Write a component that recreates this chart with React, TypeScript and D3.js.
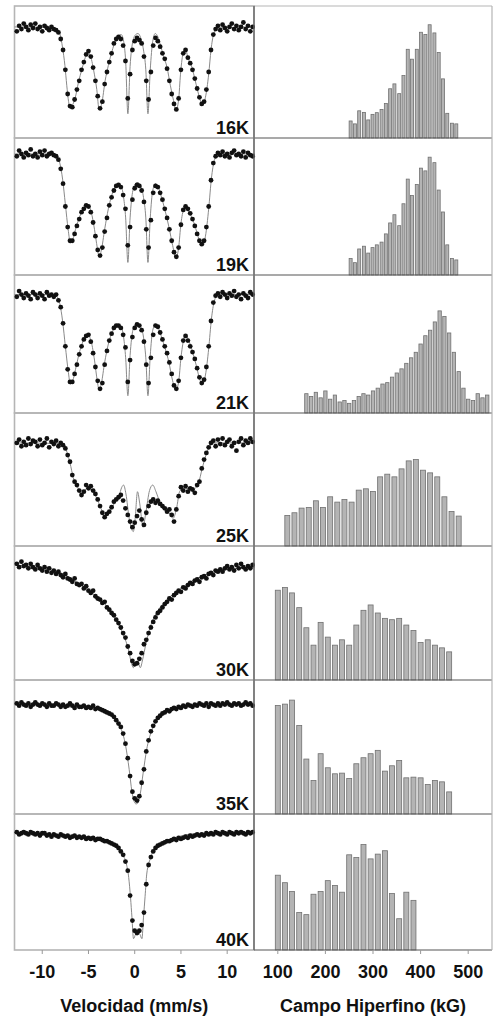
import React, { useEffect, useRef } from 'react';
import * as d3 from 'd3';

const temperatures = ['16K', '19K', '21K', '25K', '30K', '35K', '40K'];

// channel velocities (mm/s)
const velocity = [
  -12.75, -12.5, -12.25, -12, -11.75, -11.5, -11.25, -11, -10.75, -10.5, -10.25, -10,
  -9.75, -9.5, -9.25, -9, -8.75, -8.5, -8.25, -8, -7.75, -7.5, -7.25, -7,
  -6.75, -6.5, -6.25, -6, -5.75, -5.5, -5.25, -5, -4.75, -4.5, -4.25, -4,
  -3.75, -3.5, -3.25, -3, -2.75, -2.5, -2.25, -2, -1.75, -1.5, -1.25, -1,
  -0.75, -0.5, -0.25, 0, 0.25, 0.5, 0.75, 1, 1.25, 1.5, 1.75, 2,
  2.25, 2.5, 2.75, 3, 3.25, 3.5, 3.75, 4, 4.25, 4.5, 4.75, 5,
  5.25, 5.5, 5.75, 6, 6.25, 6.5, 6.75, 7, 7.25, 7.5, 7.75, 8,
  8.25, 8.5, 8.75, 9, 9.25, 9.5, 9.75, 10, 10.25, 10.5, 10.75, 11,
  11.25, 11.5, 11.75, 12, 12.25, 12.5, 12.75,
];

// measured transmission (arb. units), one value per channel
const counts16K = [
  97, 102, 99, 104, 101, 98, 103, 100, 104, 99, 101, 97, 102, 100, 98, 101,
  99, 98, 96, 90, 80, 62, 40, 29, 28, 35, 44, 52, 62, 69, 76, 79,
  74, 64, 52, 38, 27, 33, 49, 60, 69, 77, 86, 90, 92, 90, 84, 70,
  36, 58, 80, 88, 91, 89, 86, 74, 52, 35, 60, 84, 91, 88, 83, 77,
  72, 63, 52, 40, 31, 26, 36, 62, 77, 80, 73, 68, 62, 54, 45, 37,
  31, 33, 44, 60, 80, 94, 99, 102, 98, 103, 100, 97, 101, 104, 99, 102,
  98, 101, 105, 99, 102, 97, 101,
];
const counts19K = [
  104, 109, 106, 103, 107, 105, 110, 104, 106, 103, 108, 105, 109, 104, 106, 107,
  105, 104, 101, 93, 80, 60, 42, 30, 30, 36, 43, 49, 55, 58, 61, 60,
  55, 46, 34, 22, 17, 24, 38, 50, 61, 68, 74, 78, 79, 77, 70, 58,
  26, 42, 66, 76, 79, 78, 74, 64, 40, 24, 48, 72, 78, 77, 72, 66,
  58, 50, 40, 30, 20, 16, 24, 44, 57, 60, 58, 54, 49, 43, 36, 30,
  27, 30, 42, 60, 83, 98, 104, 107, 105, 108, 104, 106, 103, 107, 109, 105,
  106, 104, 108, 103, 107, 105, 104,
];
const counts21K = [
  101, 106, 103, 100, 104, 102, 99, 105, 103, 100, 104, 102, 99, 105, 102, 103,
  101, 103, 98, 92, 78, 58, 38, 27, 27, 34, 42, 51, 58, 64, 67, 68,
  62, 52, 40, 28, 21, 26, 42, 54, 63, 69, 74, 76, 76, 74, 68, 57,
  27, 46, 66, 74, 77, 76, 72, 62, 42, 26, 48, 68, 76, 75, 70, 64,
  58, 52, 44, 34, 24, 21, 28, 48, 63, 67, 63, 58, 53, 47, 39, 31,
  26, 29, 40, 58, 80, 96, 102, 104, 101, 105, 103, 100, 104, 102, 106, 101,
  103, 99, 104, 102, 100, 105, 103,
];
const counts25K = [
  93, 96, 90, 94, 91, 97, 92, 95, 94, 90, 96, 91, 93, 97, 89, 94,
  92, 95, 90, 93, 91, 88, 82, 76, 64, 58, 55, 50, 46, 49, 55, 52,
  54, 50, 47, 42, 36, 30, 26, 29, 31, 35, 40, 42, 44, 46, 41, 34,
  28, 22, 17, 21, 27, 32, 24, 19, 30, 36, 40, 42, 39, 41, 38, 36,
  34, 31, 33, 28, 22, 33, 45, 53, 50, 54, 49, 52, 51, 48, 55, 58,
  70, 78, 84, 89, 93, 95, 90, 96, 92, 97, 91, 94, 96, 90, 93, 86,
  94, 97, 91, 95, 93, 97, 94,
];
const counts30K = [
  104, 101, 106, 102, 103, 100, 104, 101, 99, 103, 100, 98, 101, 97, 100, 96,
  98, 95, 97, 94, 92, 95, 91, 90, 88, 91, 86, 85, 86, 82, 84, 80,
  78, 80, 75, 73, 72, 69, 70, 65, 63, 60, 58, 54, 51, 47, 42, 38,
  30, 24, 17, 14, 15, 19, 24, 32, 36, 42, 47, 52, 56, 60, 62, 65,
  68, 70, 73, 72, 76, 78, 80, 79, 83, 82, 85, 87, 86, 89, 90, 88,
  92, 93, 91, 95, 96, 94, 98, 97, 99, 97, 100, 102, 99, 101, 98, 103,
  100, 104, 101, 99, 102, 100, 103,
];
const counts35K = [
  99, 97, 100, 98, 97, 99, 96, 98, 100, 98, 97, 99, 98, 96, 99, 97,
  97, 99, 98, 96, 98, 96, 97, 99, 97, 95, 98, 96, 96, 97, 95, 96,
  95, 97, 94, 95, 94, 93, 92, 91, 90, 89, 87, 84, 81, 78, 72, 63,
  50, 34, 20, 14, 12, 16, 28, 40, 56, 66, 74, 79, 83, 86, 88, 90,
  91, 93, 92, 94, 95, 94, 96, 95, 97, 96, 98, 97, 96, 98, 97, 99,
  98, 97, 99, 96, 99, 98, 97, 99, 97, 99, 98, 100, 98, 97, 99, 98,
  99, 97, 98, 100, 98, 99, 97,
];
const counts40K = [
  104, 102, 103, 104, 103, 102, 104, 103, 102, 103, 101, 103, 103, 101, 102, 100,
  102, 101, 100, 102, 101, 100, 101, 99, 100, 101, 99, 100, 99, 100, 98, 99,
  98, 99, 97, 98, 98, 97, 96, 96, 95, 94, 93, 92, 90, 87, 84, 78,
  70, 48, 26, 17, 15, 17, 22, 33, 58, 75, 82, 87, 90, 92, 93, 94,
  95, 96, 96, 97, 98, 97, 99, 98, 99, 100, 99, 101, 100, 101, 102, 101,
  102, 101, 103, 102, 103, 102, 104, 103, 102, 104, 103, 102, 104, 103, 102, 104,
  103, 104, 103, 102, 104, 103, 104,
];

// fitted curves: [velocity, transmission]
const fit16K = [
  [-13, 101], [-9, 100.5], [-8.4, 99], [-8.1, 95], [-7.8, 82], [-7.55, 66], [-7.35, 48], [-7.15, 33],
  [-6.99, 27], [-6.8, 29], [-6.45, 36], [-6.1, 50], [-5.7, 63], [-5.35, 73], [-5.1, 78], [-4.8, 75],
  [-4.45, 62], [-4.1, 44], [-3.85, 26], [-3.55, 32], [-3.2, 52], [-2.85, 66], [-2.45, 79], [-2.1, 88],
  [-1.75, 93], [-1.45, 94], [-1.2, 88], [-0.98, 70], [-0.74, 22], [-0.5, 65], [-0.2, 88], [0.1, 94],
  [0.35, 95], [0.65, 91], [0.95, 80], [1.2, 62], [1.43, 22], [1.68, 62], [1.95, 88], [2.22, 95],
  [2.5, 92], [2.8, 84], [3.1, 75], [3.5, 64], [3.85, 48], [4.2, 34], [4.46, 25], [4.75, 35],
  [4.95, 58], [5.2, 76], [5.45, 81], [5.8, 72], [6.2, 64], [6.55, 52], [6.9, 40], [7.35, 30],
  [7.65, 37], [8.0, 58], [8.25, 80], [8.55, 95], [8.9, 100], [13, 101],
];
const fit19K = [
  [-13, 106], [-9, 106], [-8.4, 104], [-8.1, 98], [-7.8, 84], [-7.5, 62], [-7.2, 40], [-6.95, 28],
  [-6.7, 31], [-6.4, 40], [-6.0, 50], [-5.5, 59], [-5.1, 61], [-4.7, 55], [-4.35, 40], [-4.05, 24],
  [-3.85, 16], [-3.6, 22], [-3.25, 40], [-2.85, 58], [-2.4, 72], [-1.95, 79], [-1.5, 78], [-1.2, 68],
  [-0.98, 50], [-0.74, 11], [-0.5, 50], [-0.2, 74], [0.1, 80], [0.35, 81], [0.65, 78], [0.95, 68],
  [1.2, 50], [1.43, 11], [1.68, 50], [1.95, 74], [2.25, 80], [2.55, 77], [2.9, 68], [3.3, 56],
  [3.7, 42], [4.1, 26], [4.45, 15], [4.75, 24], [5.0, 45], [5.3, 58], [5.5, 61], [5.9, 55],
  [6.3, 48], [6.7, 38], [7.0, 30], [7.35, 26], [7.65, 34], [8.0, 58], [8.3, 85], [8.6, 100],
  [9.0, 106], [13, 106],
];
const fit21K = [
  [-13, 103], [-9, 103], [-8.4, 101], [-8.1, 95], [-7.8, 80], [-7.5, 58], [-7.2, 37], [-6.95, 25],
  [-6.7, 28], [-6.4, 38], [-6.0, 52], [-5.5, 64], [-5.1, 68], [-4.7, 62], [-4.35, 46], [-4.05, 28],
  [-3.85, 20], [-3.6, 26], [-3.25, 44], [-2.85, 60], [-2.4, 71], [-1.95, 76], [-1.5, 75], [-1.2, 66],
  [-0.98, 48], [-0.74, 15], [-0.5, 50], [-0.2, 72], [0.1, 77], [0.35, 78], [0.65, 75], [0.95, 66],
  [1.2, 48], [1.43, 15], [1.68, 50], [1.95, 72], [2.25, 77], [2.55, 74], [2.9, 66], [3.3, 56],
  [3.7, 44], [4.1, 28], [4.45, 20], [4.75, 27], [5.0, 48], [5.3, 64], [5.5, 68], [5.9, 62],
  [6.3, 52], [6.7, 40], [7.0, 30], [7.35, 25], [7.65, 33], [8.0, 56], [8.3, 82], [8.6, 97],
  [9.0, 103], [13, 103],
];
const fit25K = [
  [-13, 93], [-8, 92.5], [-7.6, 90], [-7.3, 84], [-7.0, 75], [-6.65, 62], [-6.1, 52], [-5.7, 47],
  [-5.2, 52], [-4.7, 51], [-4.1, 43], [-3.7, 35], [-3.2, 27], [-2.7, 31], [-2.1, 40], [-1.7, 45],
  [-1.4, 53], [-1.2, 55], [-0.95, 47], [-0.6, 25], [-0.15, 13], [0.05, 25], [0.3, 49], [0.55, 38],
  [0.9, 17], [1.2, 30], [1.6, 50], [1.95, 55], [2.3, 49], [2.7, 40], [3.2, 35], [3.7, 30],
  [4.15, 25], [4.5, 33], [4.9, 50], [5.5, 52], [6.3, 51], [6.9, 57], [7.3, 70], [7.7, 82],
  [8.2, 91], [8.7, 93], [13, 93],
];
const fit30K = [
  [-13, 103], [-10, 100], [-8, 96], [-6, 86], [-4, 74], [-3, 66], [-2, 54], [-1.2, 40],
  [-0.7, 28], [-0.35, 15], [-0.15, 11], [0.1, 16], [0.35, 16], [0.6, 11], [0.85, 18], [1.2, 32],
  [1.7, 48], [2.5, 62], [3.5, 72], [5, 82], [6.5, 90], [8, 95], [10, 99], [13, 101],
];
const fit35K = [
  [-13, 98], [-6, 97], [-4, 95], [-3, 92], [-2.2, 86], [-1.5, 77], [-1.0, 62], [-0.6, 40],
  [-0.3, 20], [-0.05, 11], [0.15, 9], [0.35, 10], [0.6, 18], [0.9, 36], [1.3, 58], [1.8, 74],
  [2.5, 85], [3.5, 92], [5, 96], [7, 98], [13, 98],
];
const fit40K = [
  [-13, 103.5], [-7.4, 101.5], [-3.7, 98.5], [-2.3, 94], [-1.4, 85], [-0.9, 76], [-0.65, 64], [-0.45, 46],
  [-0.3, 29], [-0.13, 10], [0.1, 14], [0.33, 16], [0.55, 14], [0.78, 10], [0.95, 29], [1.12, 47],
  [1.3, 67], [1.7, 81], [2.4, 91], [4.2, 98.5], [7.1, 103], [13, 103.5],
];

// hyperfine field distributions: field (kG) and probability (arb. units)
const field16K = [253, 262, 271, 281, 290, 299, 308, 318, 327, 336, 345, 355, 364, 373, 382, 392, 401, 410, 419, 429, 438, 447, 456, 466, 475];
const prob16K = [12.9, 10.7, 20.6, 19.4, 13.7, 17.9, 19.2, 21.6, 26.1, 37.3, 41, 33.6, 47.3, 67.2, 59.7, 67.2, 80.1, 78.4, 85.8, 79.6, 64.7, 44.8, 18.7, 11.2, 10.7];
const field19K = [253, 262, 271, 281, 290, 299, 308, 318, 327, 336, 345, 355, 364, 373, 382, 392, 401, 410, 419, 429, 438, 447, 456, 466, 475];
const prob19K = [12, 9, 19, 21, 16, 20, 22, 24, 30, 38, 44, 36, 52, 70, 58, 66, 78, 76, 86, 82, 62, 46, 22, 12, 11];
const field21K = [160, 170, 180, 190, 200, 210, 220, 230, 240, 250, 260, 270, 280, 290, 300, 310, 320, 330, 340, 350, 360, 370, 380, 390, 400, 410, 420, 430, 440, 450, 460, 470, 480, 490, 500, 510, 520, 530, 540];
const prob21K = [14, 12, 15, 11, 16, 10, 13, 8, 9, 7, 9, 12, 14, 13, 16, 18, 21, 22, 26, 29, 32, 36, 40, 44, 50, 56, 60, 66, 74, 70, 58, 44, 30, 18, 10, 9, 14, 11, 13];
const field25K = [120, 135, 150, 165, 180, 195, 210, 225, 240, 255, 270, 285, 300, 315, 330, 345, 360, 375, 390, 405, 420, 435, 450, 465, 480];
const prob25K = [23, 25, 28.5, 29, 34, 29, 37, 33, 35, 33, 42, 43, 41, 52, 54, 52, 58, 64, 65, 57, 55, 52, 37, 26, 22.5];
const field30K = [100, 115, 130, 145, 160, 175, 190, 205, 220, 235, 250, 265, 280, 295, 310, 325, 340, 355, 370, 385, 400, 415, 430, 445, 460];
const prob30K = [67, 69, 65, 54, 39, 26, 43, 32, 26, 30, 26, 41, 52, 56, 50, 46, 45, 46, 41, 37, 28, 30, 26, 24, 21];
const field35K = [100, 115, 130, 145, 160, 175, 190, 205, 220, 235, 250, 265, 280, 295, 310, 325, 340, 355, 370, 385, 400, 415, 430, 445, 460];
const prob35K = [81, 82, 85, 66, 41, 25, 45, 34.5, 30, 30.5, 26.5, 37.5, 42, 45, 47.5, 32, 36, 40, 27, 27.5, 27, 22, 25, 24, 16.5];
const field40K = [100, 115, 130, 145, 160, 175, 190, 205, 220, 235, 250, 265, 280, 295, 310, 325, 340, 355, 370, 385];
const prob40K = [55, 49.5, 43, 27.5, 26, 41, 43, 51, 47.5, 42.5, 70, 68, 77.5, 67, 70.5, 73, 41.5, 23, 42.5, 36.5];

const velocityTicks = [-10, -5, 0, 5, 10];
const fieldTicks = [100, 200, 300, 400, 500];

const spectra = [
  { counts: counts16K, fit: fit16K, field: field16K, prob: prob16K },
  { counts: counts19K, fit: fit19K, field: field19K, prob: prob19K },
  { counts: counts21K, fit: fit21K, field: field21K, prob: prob21K },
  { counts: counts25K, fit: fit25K, field: field25K, prob: prob25K },
  { counts: counts30K, fit: fit30K, field: field30K, prob: prob30K },
  { counts: counts35K, fit: fit35K, field: field35K, prob: prob35K },
  { counts: counts40K, fit: fit40K, field: field40K, prob: prob40K },
];

const W = 494;
const H = 1017;
const rowEdges = [6, 138, 275, 413, 546, 680, 814, 950];
const LEFT = 14.5;
const MID = 254;
const RIGHT = 492;
const FONT = '"Liberation Sans", Arial, Helvetica, sans-serif';

const App = () => {
  const svgRef = useRef<SVGSVGElement>(null);

  useEffect(() => {
    const svg = d3.select(svgRef.current);
    svg.selectAll('*').remove();

    const xVel = d3.scaleLinear().domain([-13, 12.9]).range([LEFT, MID]);
    const xField = d3.scaleLinear().domain([50, 550]).range([MID, RIGHT]);

    spectra.forEach((s, r) => {
      const top = rowEdges[r];
      const bottom = rowEdges[r + 1];
      const yT = d3.scaleLinear().domain([0, 120]).range([bottom, top]);
      const yP = d3.scaleLinear().domain([0, 100]).range([bottom, top]);

      // spectrum panel
      const g = svg.append('g');
      g.append('rect')
        .attr('x', LEFT).attr('y', top)
        .attr('width', MID - LEFT).attr('height', bottom - top)
        .attr('fill', 'none').attr('stroke', '#b5b5b5').attr('stroke-width', 1.6);

      const line = d3.line<number[]>()
        .x(d => xVel(d[0]))
        .y(d => yT(d[1]))
        .curve(d3.curveMonotoneX);
      g.append('path')
        .datum(s.fit)
        .attr('d', line)
        .attr('fill', 'none')
        .attr('stroke', '#8a8a8a')
        .attr('stroke-width', 1);

      g.selectAll('circle')
        .data(s.counts)
        .join('circle')
        .attr('cx', (d, i) => xVel(velocity[i]))
        .attr('cy', d => yT(d))
        .attr('r', 2.4)
        .attr('fill', '#111');

      g.append('text')
        .attr('x', MID - 5).attr('y', bottom - 4.5)
        .attr('text-anchor', 'end')
        .attr('font-family', FONT).attr('font-weight', 'bold').attr('font-size', 18)
        .attr('fill', '#111')
        .text(temperatures[r]);

      // field distribution panel
      const step = s.field[1] - s.field[0];
      const bw = xField(step * 0.7) - xField(0);
      const h = svg.append('g');
      h.selectAll('rect')
        .data(s.prob)
        .join('rect')
        .attr('x', (d, i) => xField(s.field[i]) - bw / 2)
        .attr('y', d => yP(d))
        .attr('width', bw)
        .attr('height', d => yP(0) - yP(d))
        .attr('fill', '#b4b4b4')
        .attr('stroke', '#707070')
        .attr('stroke-width', 0.8);

      h.append('line')
        .attr('x1', MID).attr('x2', RIGHT)
        .attr('y1', bottom).attr('y2', bottom)
        .attr('stroke', '#555').attr('stroke-width', 1.2);
    });

    // outer frame of field panel
    svg.append('line').attr('x1', MID).attr('x2', RIGHT).attr('y1', rowEdges[0]).attr('y2', rowEdges[0])
      .attr('stroke', '#b5b5b5').attr('stroke-width', 1.2);
    svg.append('line').attr('x1', RIGHT).attr('x2', RIGHT).attr('y1', rowEdges[0]).attr('y2', rowEdges[7])
      .attr('stroke', '#b5b5b5').attr('stroke-width', 1.2);
    svg.append('line').attr('x1', MID).attr('x2', MID).attr('y1', rowEdges[0]).attr('y2', rowEdges[7])
      .attr('stroke', '#666').attr('stroke-width', 1.4);

    // bottom axes
    const base = rowEdges[7];
    const ax = svg.append('g');
    ax.selectAll('.vt').data(velocityTicks).join('line')
      .attr('x1', d => xVel(d)).attr('x2', d => xVel(d))
      .attr('y1', base).attr('y2', base + 4)
      .attr('stroke', '#999');
    ax.selectAll('.ft').data(fieldTicks).join('line')
      .attr('x1', d => xField(d)).attr('x2', d => xField(d))
      .attr('y1', base).attr('y2', base + 4)
      .attr('stroke', '#999');
    ax.selectAll('.vl').data(velocityTicks).join('text')
      .attr('x', d => xVel(d)).attr('y', 978)
      .attr('text-anchor', 'middle')
      .attr('font-family', FONT).attr('font-weight', 'bold').attr('font-size', 18)
      .attr('fill', '#111')
      .text(d => String(d));
    ax.selectAll('.fl').data(fieldTicks).join('text')
      .attr('x', d => xField(d)).attr('y', 978)
      .attr('text-anchor', 'middle')
      .attr('font-family', FONT).attr('font-weight', 'bold').attr('font-size', 18)
      .attr('fill', '#111')
      .text(d => String(d));

    ax.append('text')
      .attr('x', (LEFT + MID) / 2).attr('y', 1012)
      .attr('text-anchor', 'middle')
      .attr('font-family', FONT).attr('font-weight', 'bold').attr('font-size', 18)
      .attr('fill', '#111')
      .text('Velocidad (mm/s)');
    ax.append('text')
      .attr('x', xField(300)).attr('y', 1012)
      .attr('text-anchor', 'middle')
      .attr('font-family', FONT).attr('font-weight', 'bold').attr('font-size', 18)
      .attr('fill', '#111')
      .text('Campo Hiperfino (kG)');
  }, []);

  return (
    <svg
      ref={svgRef}
      width={W}
      height={H}
      style={{ position: 'absolute', left: 0, top: 0, background: '#fff' }}
    />
  );
};

export default App;
